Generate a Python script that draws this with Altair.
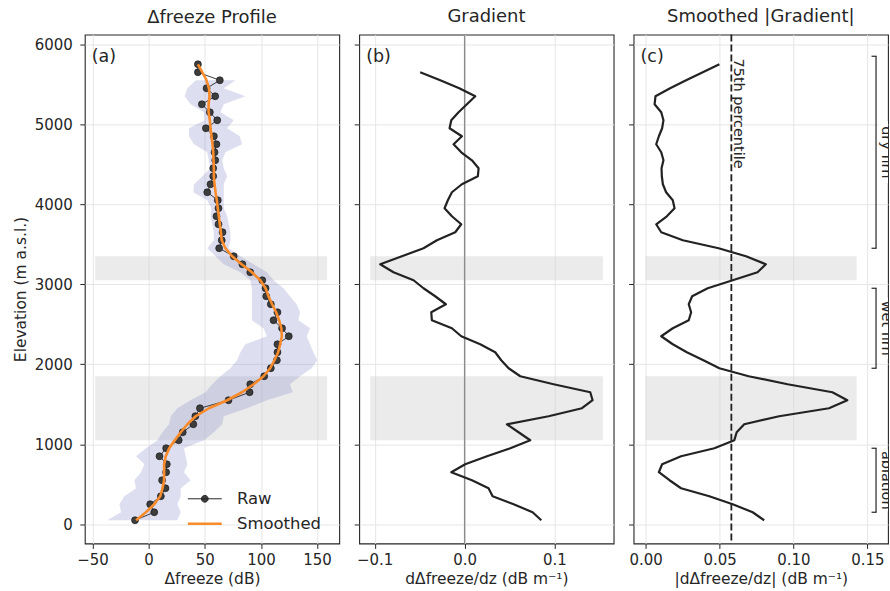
import altair as alt
import pandas as pd

FONT = "DejaVu Sans"
INK = "#262626"
GRID = "#e6e6e6"
ORANGE = "#f98b2b"
DOT = "#3d3d3d"

# ---------------------------------------------------------------- data
# Elevation grid of the profile (m a.s.l.)
elevation = [5750, 5650, 5550, 5450, 5350, 5250, 5150, 5050, 4950, 4850,
             4750, 4650, 4550, 4450, 4350, 4250, 4150, 4050, 3950, 3850,
             3750, 3650, 3550, 3450, 3350, 3250, 3150, 3050, 2950, 2850,
             2750, 2650, 2550, 2450, 2350, 2250, 2150, 2050, 1950, 1850,
             1750, 1650, 1550, 1450, 1350, 1250, 1150, 1050, 950, 850,
             750, 650, 550, 450, 350, 250, 150, 50]

# Raw and smoothed delta-freeze (dB)
raw_dfreeze = [43.9, 43.9, 63.4, 51.6, 59.3, 47.4, 54.5, 61.1, 51.0, 58.1,
               60.4, 58.7, 59.3, 57.5, 57.5, 55.1, 52.2, 61.6, 62.2, 60.4,
               62.2, 65.8, 65.1, 62.8, 75.8, 83.5, 90.5, 101.2, 104.1, 104.7,
               108.8, 114.7, 111.2, 118.8, 124.8, 114.7, 114.7, 114.2, 108.8, 102.9,
               90.5, 89.9, 71.1, 45.7, 41.6, 39.8, 30.4, 26.8, 15.6, 9.7,
               16.2, 15.6, 12.0, 15.0, 10.9, 1.4, 5.0, -12.1]
smooth_dfreeze = [43.9, 47.8, 51.6, 53.7, 54.2, 53.4, 53.4, 54.5, 55.1, 56.0,
                  56.9, 57.5, 57.8, 58.1, 58.1, 58.7, 59.6, 60.7, 61.6, 62.5,
                  63.4, 64.3, 65.1, 68.4, 74.3, 82.8, 92.0, 99.4, 104.1, 106.7,
                  110.0, 113.5, 116.2, 118.2, 118.6, 117.1, 115.3, 112.0, 108.2, 102.3,
                  93.5, 83.2, 69.9, 53.7, 41.9, 34.5, 28.6, 23.3, 18.3, 15.3,
                  13.8, 13.8, 13.8, 12.4, 10.3, 5.0, -2.4, -11.2]

# Spread envelope around the profile
spread_elev = [5550, 5450, 5350, 5250, 5150, 5050, 4950, 4850, 4750, 4650,
               4550, 4450, 4350, 4250, 4150, 4050, 3950, 3850, 3750, 3650,
               3550, 3450, 3350, 3250, 3150, 3050, 2950, 2850, 2750, 2650,
               2550, 2450, 2350, 2250, 2150, 2050, 1950, 1850, 1750, 1650,
               1550, 1450, 1350, 1250, 1150, 1050, 950, 850, 750, 650,
               550, 450, 350, 250, 150, 50]
spread_low = [42.0, 34.5, 32.1, 37.4, 49.2, 49.8, 36.0, 35.9, 40.4, 52.2,
              53.6, 55.1, 47.8, 40.4, 39.8, 52.2, 55.8, 55.1, 56.6, 58.1,
              58.1, 52.2, 59.6, 66.9, 81.7, 90.5, 92.0, 92.0, 92.0, 92.0,
              92.0, 102.3, 105.3, 86.1, 81.7, 78.8, 72.8, 64.0, 56.6, 50.7,
              37.4, 25.6, 19.7, 18.2, 12.3, 7.9, -2.4, -11.2, -3.8, -6.8,
              -12.7, -11.2, -21.6, -26.0, -24.5, -36.9]
spread_high = [77.3, 66.9, 86.1, 66.9, 64.0, 75.8, 69.9, 81.1, 83.2, 68.4,
               65.5, 66.9, 69.9, 66.9, 66.9, 66.9, 66.9, 69.9, 71.3, 72.8,
               72.8, 71.3, 81.7, 93.5, 105.3, 111.2, 120.0, 125.9, 131.8, 134.8,
               133.3, 143.7, 140.7, 143.7, 146.6, 150.2, 145.1, 134.8, 125.9, 128.3,
               105.3, 87.6, 66.9, 65.5, 58.1, 49.2, 31.5, 33.0, 34.5, 31.5,
               37.4, 28.6, 28.6, 25.6, 28.6, 25.6]

# Vertical gradient dΔfreeze/dz (dB m^-1)
gradient_elev = [5650, 5550, 5450, 5350, 5250, 5150, 5050, 4950, 4850, 4750,
                 4650, 4550, 4450, 4350, 4250, 4150, 4050, 3950, 3850, 3750,
                 3650, 3550, 3450, 3350, 3250, 3150, 3050, 2950, 2850,
                 2750, 2650, 2550, 2450, 2350, 2250, 2150, 2050, 1950, 1850,
                 1750, 1650, 1550, 1450, 1350, 1250, 1150, 1050, 950, 850,
                 750, 650, 550, 450, 350, 250, 150, 50]
gradient = [-0.0494, -0.0271, -0.0059, 0.0119, 0.0026, -0.0067, -0.0148, -0.0167, -0.0030, -0.0122,
            -0.0037, 0.0082, 0.0156, 0.0148, -0.0030, -0.0141, -0.0186, -0.0223, -0.0141, -0.0037,
            -0.0104, -0.0308, -0.0457, -0.0698, -0.0939, -0.0791, -0.0568, -0.0457, -0.0327,
            -0.0208, -0.0371, -0.0364, -0.0141, -0.0037, 0.0174, 0.0341, 0.0408, 0.0490, 0.0620,
            0.0991, 0.1399, 0.1425, 0.1307, 0.0935, 0.0471, 0.0601, 0.0731, 0.0509, 0.0249,
            0.0007, -0.0148, 0.0082, 0.0267, 0.0312, 0.0546, 0.0757, 0.0854]

# Smoothed |gradient| on the profile grid
abs_gradient_smooth = [0.0499, 0.0387, 0.0274, 0.0166, 0.0067, 0.0061, 0.0106, 0.0121, 0.0112, 0.0090,
                       0.0072, 0.0106, 0.0121, 0.0108, 0.0110, 0.0117, 0.0139, 0.0184, 0.0196, 0.0144,
                       0.0072, 0.0106, 0.0252, 0.0494, 0.0679, 0.0813, 0.0757, 0.0589, 0.0420, 0.0315,
                       0.0292, 0.0308, 0.0292, 0.0184, 0.0106, 0.0184, 0.0279, 0.0391, 0.0499, 0.0697,
                       0.0960, 0.1263, 0.1364, 0.1240, 0.0903, 0.0667, 0.0616, 0.0600, 0.0465, 0.0240,
                       0.0112, 0.0090, 0.0162, 0.0240, 0.0431, 0.0589, 0.0724, 0.0802]
percentile_75 = 0.058

# Transition zones (m a.s.l.)
transition_low = [1050, 3050]
transition_high = [1850, 3350]

# Facies zones
zone_names = ["dry firn", "wet firn", "ablation"]
zone_low = [3450, 1950, 150]
zone_high = [5850, 2950, 950]

# ---------------------------------------------------------------- layout
PANEL_W, PANEL_H = 255, 510
Y_DOMAIN = [-240, 6121]
Y_TICKS = [0, 1000, 2000, 3000, 4000, 5000, 6000]
M_PER_PX = (Y_DOMAIN[1] - Y_DOMAIN[0]) / PANEL_H

y_scale = alt.Scale(domain=Y_DOMAIN, nice=False, zero=False)


def y_axis(labels):
    common = dict(values=Y_TICKS, format="d", grid=True, gridColor=GRID, gridWidth=1,
                  domain=False, ticks=True, tickSize=5, tickColor=INK, tickWidth=1,
                  labelFont=FONT, labelFontSize=15, labelColor=INK, labelPadding=7.5)
    if labels:
        return alt.Axis(title="Elevation (m a.s.l.)", titleFont=FONT, titleFontSize=15.5,
                        titleFontWeight="normal", titleColor=INK, titlePadding=6, **common)
    return alt.Axis(title=None, labels=False, **common)


def x_axis(title, values, fmt):
    return alt.Axis(title=title, values=values, format=fmt, grid=True, gridColor=GRID,
                    gridWidth=1, domain=False, ticks=True, tickSize=5, tickColor=INK,
                    labelFont=FONT, labelFontSize=15, labelColor=INK, labelPadding=4,
                    titleFont=FONT, titleFontSize=15.5, titleFontWeight="normal",
                    titleColor=INK, titlePadding=4)


def panel_title(text):
    return alt.TitleParams(text=text, font=FONT, fontSize=18, fontWeight="normal",
                           color=INK, offset=8)


def panel_tag(tag):
    return alt.Chart(pd.DataFrame({"tag": [tag]})).mark_text(
        font=FONT, fontSize=17.5, color=INK, align="left", baseline="middle"
    ).encode(x=alt.value(7), y=alt.value(22), text="tag:N")


def bands(x_lo, x_hi, y_ax, x_scale, x_ax):
    df = pd.DataFrame({"lo": transition_low, "hi": transition_high,
                       "x0": [x_lo] * len(transition_low), "x1": [x_hi] * len(transition_low)})
    return alt.Chart(df).mark_rect(color="#cfcfcf", opacity=0.42).encode(
        x=alt.X("x0:Q", scale=x_scale, axis=x_ax), x2="x1:Q",
        y=alt.Y("lo:Q", scale=y_scale, axis=y_ax), y2="hi:Q")


# ---------------------------------------------------------------- panel (a)
xa_scale = alt.Scale(domain=[-56.8, 169.7], nice=False, zero=False)
xa_axis = x_axis("Δfreeze (dB)", [-50, 0, 50, 100, 150], "d")
ya_axis = y_axis(True)

profile = pd.DataFrame({"elev": elevation, "raw": raw_dfreeze, "smooth": smooth_dfreeze})
lines_long = pd.concat([
    pd.DataFrame({"elev": elevation, "value": raw_dfreeze, "series": "Raw"}),
    pd.DataFrame({"elev": elevation, "value": smooth_dfreeze, "series": "Smoothed"}),
])
spread = pd.DataFrame({"elev": spread_elev, "lo": spread_low, "hi": spread_high})

legend = alt.Legend(
    title=None, orient="none", legendX=112, legendY=457, padding=0,
    symbolType={"expr": "datum.value === 'Raw' ? "
                        "'M-1,0H1M-0.2,0A0.2,0.2,0,1,1,0.2,0A0.2,0.2,0,1,1,-0.2,0Z' : 'stroke'"},
    symbolSize=1156, symbolStrokeWidth={"expr": "datum.value === 'Raw' ? 1 : 2.6"},
    symbolFillColor=DOT, labelFont=FONT, labelFontSize=16.5, labelColor=INK,
    labelOffset=24, rowPadding=8,
)
color_enc = alt.Color("series:N", scale=alt.Scale(domain=["Raw", "Smoothed"], range=[INK, ORANGE]),
                      legend=legend)

band_a = bands(-47.5, 158.9, ya_axis, xa_scale, xa_axis)
spread_a = alt.Chart(spread).mark_area(orient="horizontal", color="#7b7bc8", opacity=0.25).encode(
    y=alt.Y("elev:Q", scale=y_scale, axis=ya_axis),
    x=alt.X("lo:Q", scale=xa_scale, axis=xa_axis), x2="hi:Q")
raw_line = alt.Chart(lines_long).transform_filter("datum.series === 'Raw'").mark_line(
    strokeWidth=0.9, strokeJoin="round").encode(
    y=alt.Y("elev:Q", scale=y_scale, axis=ya_axis),
    x=alt.X("value:Q", scale=xa_scale, axis=xa_axis),
    order=alt.Order("elev:Q"), color=color_enc)
raw_pts = alt.Chart(profile).mark_circle(size=48, color=DOT, opacity=1, stroke="#1a1a1a",
                                         strokeWidth=0.7).encode(
    y=alt.Y("elev:Q", scale=y_scale, axis=ya_axis),
    x=alt.X("raw:Q", scale=xa_scale, axis=xa_axis))
smooth_line = alt.Chart(lines_long).transform_filter("datum.series === 'Smoothed'").mark_line(
    strokeWidth=2.6, strokeJoin="round").encode(
    y=alt.Y("elev:Q", scale=y_scale, axis=ya_axis),
    x=alt.X("value:Q", scale=xa_scale, axis=xa_axis),
    order=alt.Order("elev:Q"), color=color_enc)

panel_a = alt.layer(band_a, spread_a, raw_line, raw_pts, smooth_line, panel_tag("(a)")).properties(
    width=PANEL_W, height=PANEL_H, title=panel_title("Δfreeze Profile"))

# ---------------------------------------------------------------- panel (b)
xb_scale = alt.Scale(domain=[-0.1173, 0.1659], nice=False, zero=False)
xb_axis = x_axis("dΔfreeze/dz (dB m⁻¹)", [-0.1, 0.0, 0.1], ".1f")
yb_axis = y_axis(False)

grad_df = pd.DataFrame({"elev": gradient_elev, "grad": gradient})
band_b = bands(-0.105, 0.154, yb_axis, xb_scale, xb_axis)
zero_b = alt.Chart(pd.DataFrame({"z": [0.0]})).mark_rule(color="#8c8c8c", strokeWidth=1.3).encode(
    x=alt.X("z:Q", scale=xb_scale, axis=xb_axis))
grad_line = alt.Chart(grad_df).mark_line(color="#222222", strokeWidth=2.2, strokeJoin="round").encode(
    y=alt.Y("elev:Q", scale=y_scale, axis=yb_axis),
    x=alt.X("grad:Q", scale=xb_scale, axis=xb_axis),
    order=alt.Order("elev:Q"))

panel_b = alt.layer(band_b, zero_b, grad_line, panel_tag("(b)")).properties(
    width=PANEL_W, height=PANEL_H, title=panel_title("Gradient"))

# ---------------------------------------------------------------- panel (c)
xc_scale = alt.Scale(domain=[-0.0081, 0.1639], nice=False, zero=False)
xc_axis = x_axis("|dΔfreeze/dz| (dB m⁻¹)", [0.0, 0.05, 0.10, 0.15], ".2f")
yc_axis = y_axis(False)

absg_df = pd.DataFrame({"elev": elevation, "absg": abs_gradient_smooth})
band_c = bands(0.0, 0.1427, yc_axis, xc_scale, xc_axis)
absg_line = alt.Chart(absg_df).mark_line(color="#222222", strokeWidth=2.2, strokeJoin="round").encode(
    y=alt.Y("elev:Q", scale=y_scale, axis=yc_axis),
    x=alt.X("absg:Q", scale=xc_scale, axis=xc_axis),
    order=alt.Order("elev:Q"))
pct_df = pd.DataFrame({"p": [percentile_75], "label": ["75th percentile"]})
pct_rule = alt.Chart(pct_df).mark_rule(color="#222222", strokeWidth=1.8, strokeDash=[7, 3]).encode(
    x=alt.X("p:Q", scale=xc_scale, axis=xc_axis))
pct_text = alt.Chart(pct_df).mark_text(font=FONT, fontSize=14.5, color=INK, angle=90,
                                       align="left", baseline="bottom").encode(
    x=alt.X("p:Q", scale=xc_scale, axis=xc_axis), y=alt.value(24), text="label:N")

# Zone brackets along the right edge
zones = pd.DataFrame({"zone": zone_names, "lo": zone_low, "hi": zone_high})
zones["mid"] = (zones["lo"] + zones["hi"]) / 2
half_len = (zones["zone"].str.len() * 0.48 * 14.5 / 2 + 3) * M_PER_PX
zones["bg_lo"] = zones["mid"] - half_len
zones["bg_hi"] = zones["mid"] + half_len

BR_X, TICK_X, LABEL_X = 243, 238.5, 253
bracket_v = alt.Chart(zones).mark_rule(color=INK, strokeWidth=1.2).encode(
    x=alt.value(BR_X), y=alt.Y("lo:Q", scale=y_scale, axis=yc_axis), y2="hi:Q")
bracket_lo = alt.Chart(zones).mark_rule(color=INK, strokeWidth=1.2).encode(
    x=alt.value(TICK_X), x2=alt.value(BR_X + 0.6), y=alt.Y("lo:Q", scale=y_scale, axis=yc_axis))
bracket_hi = alt.Chart(zones).mark_rule(color=INK, strokeWidth=1.2).encode(
    x=alt.value(TICK_X), x2=alt.value(BR_X + 0.6), y=alt.Y("hi:Q", scale=y_scale, axis=yc_axis))
zone_bg = alt.Chart(zones).mark_rect(color="white", clip=True).encode(
    x=alt.value(LABEL_X - 7), x2=alt.value(LABEL_X + 9),
    y=alt.Y("bg_lo:Q", scale=y_scale, axis=yc_axis), y2="bg_hi:Q")
zone_text = alt.Chart(zones).mark_text(font=FONT, fontSize=14.5, color=INK, angle=90,
                                       align="center", baseline="middle", clip=True).encode(
    x=alt.value(LABEL_X), y=alt.Y("mid:Q", scale=y_scale, axis=yc_axis), text="zone:N")

panel_c = alt.layer(band_c, absg_line, pct_rule, pct_text, bracket_v, bracket_lo, bracket_hi,
                    zone_bg, zone_text, panel_tag("(c)")).properties(
    width=PANEL_W, height=PANEL_H, title=panel_title("Smoothed |Gradient|"))

# ---------------------------------------------------------------- assemble
chart = alt.hconcat(panel_a, panel_b, panel_c, spacing=20, bounds="flush").resolve_scale(
    color="independent"
).properties(
    padding={"left": 12, "top": 6, "right": 1, "bottom": 0},
    background="white",
).configure_view(stroke=INK, strokeWidth=1.1)

chart.save("out.html", embed_options={"renderer": "svg", "actions": False})
